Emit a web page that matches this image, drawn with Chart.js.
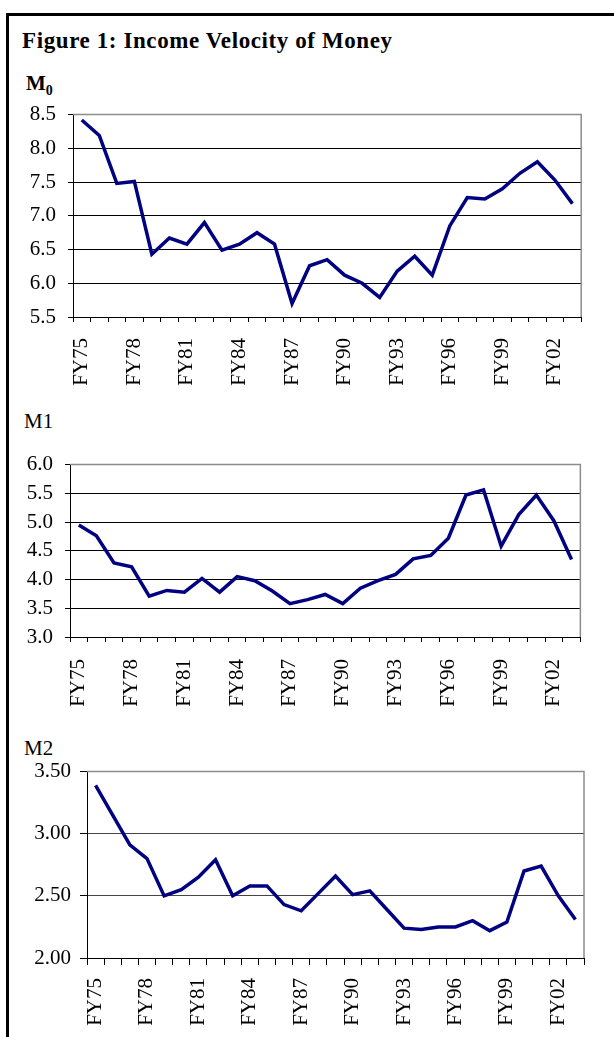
<!DOCTYPE html>
<html>
<head>
<meta charset="utf-8">
<script src="https://cdn.jsdelivr.net/npm/chart.js@4"></script>
<style>
    body { margin: 0; background: #fff; width: 614px; height: 1037px; overflow: hidden; position: relative; font-family: "Liberation Serif", serif; }
    .frame { position: absolute; left: 6px; top: 13px; width: 620px; height: 1040px; border-left: 3px solid #000; border-top: 3px solid #000; }
    .title { position: absolute; left: 22px; top: 28px; font-size: 23px; font-weight: bold; letter-spacing: 0.6px; }
    .lbl { position: absolute; font-size: 21px; }
    canvas { position: absolute; left: 0; }
</style>
</head>
<body>
<div class="frame"></div>
<div class="title">Figure 1: Income Velocity of Money</div>
<div class="lbl" style="left:26px; top:71px; font-weight:bold;">M<sub style="font-size:14px;">0</sub></div>
<div class="lbl" style="left:24px; top:409px;">M1</div>
<div class="lbl" style="left:24px; top:736px;">M2</div>
<div style="position:absolute; left:0; top:90px; width:614px; height:310px;"><canvas id="m0"></canvas></div>
<div style="position:absolute; left:0; top:440px; width:614px; height:290px;"><canvas id="m1"></canvas></div>
<div style="position:absolute; left:0; top:750px; width:614px; height:287px;"><canvas id="m2"></canvas></div>

<script>
const years = ['FY75', 'FY76', 'FY77', 'FY78', 'FY79', 'FY80', 'FY81', 'FY82', 'FY83', 'FY84',
    'FY85', 'FY86', 'FY87', 'FY88', 'FY89', 'FY90', 'FY91', 'FY92', 'FY93', 'FY94',
    'FY95', 'FY96', 'FY97', 'FY98', 'FY99', 'FY00', 'FY01', 'FY02', 'FY03'];

const m0Values = [8.42, 8.19, 7.48, 7.51, 6.43, 6.67, 6.58, 6.90, 6.49, 6.58,
    6.75, 6.58, 5.70, 6.26, 6.35, 6.12, 6.00, 5.79, 6.18, 6.40,
    6.12, 6.85, 7.27, 7.25, 7.40, 7.63, 7.80, 7.53, 7.18];

const m1Values = [4.95, 4.76, 4.29, 4.22, 3.71, 3.81, 3.78, 4.02, 3.78, 4.05,
    3.98, 3.80, 3.58, 3.65, 3.74, 3.58, 3.85, 3.98, 4.09, 4.36,
    4.42, 4.72, 5.47, 5.56, 4.58, 5.13, 5.47, 5.02, 4.35];

const m2Values = [3.39, 3.15, 2.91, 2.80, 2.50, 2.55, 2.65, 2.79, 2.50, 2.58,
    2.58, 2.43, 2.38, 2.52, 2.66, 2.51, 2.54, 2.39, 2.24, 2.23,
    2.25, 2.25, 2.30, 2.22, 2.29, 2.70, 2.74, 2.50, 2.31];

const m0Ticks = [5.5, 8.5];
const m1Ticks = [3.0, 6.0];
const m2Ticks = [2.0, 3.5];

const tickFont = { family: 'Liberation Serif', size: 21 };

// grey frame on top and right of the plot area
const plotBorder = {
    id: 'plotBorder',
    beforeDatasetsDraw(chart) {
        const a = chart.chartArea;
        const ctx = chart.ctx;
        ctx.save();
        ctx.strokeStyle = '#8c8c8c';
        ctx.lineWidth = 1.5;
        ctx.beginPath();
        ctx.moveTo(a.left, a.top);
        ctx.lineTo(a.right, a.top);
        ctx.lineTo(a.right, a.bottom);
        ctx.stroke();
        ctx.restore();
    }
};

function createVelocityChart(canvasId, values, range, decimals, box) {
    const canvas = document.getElementById(canvasId);

    if (!canvas) return;

    new Chart(canvas, {
        type: 'line',
        data: {
            labels: years,
            datasets: [{
                data: values,
                borderColor: '#000080',
                borderWidth: 3.5,
                pointRadius: 0,
                tension: 0,
                fill: false
            }]
        },
        options: {
            responsive: true,
            maintainAspectRatio: false,
            animation: false,
            layout: {
                padding: { top: box.top, right: box.right, left: 0, bottom: 0 }
            },
            plugins: {
                legend: { display: false },
                tooltip: { enabled: false }
            },
            scales: {
                x: {
                    offset: true,
                    grid: {
                        offset: true,
                        drawOnChartArea: false,
                        drawTicks: true,
                        tickLength: box.tick,
                        color: '#000'
                    },
                    border: { color: '#000', width: 1 },
                    ticks: {
                        autoSkip: false,
                        minRotation: 90,
                        maxRotation: 90,
                        padding: box.xPad,
                        color: '#000',
                        font: tickFont,
                        callback: (v, i) => i % 3 === 0 ? years[i] : ''
                    },
                    afterFit(scale) { scale.height = box.xHeight; }
                },
                y: {
                    min: range[0],
                    max: range[1],
                    grid: {
                        color: (c) => c.tick && c.tick.value === range[1] ? 'rgba(0,0,0,0)' : box.gridColor,
                        tickColor: '#000',
                        tickLength: box.tick,
                        lineWidth: 1
                    },
                    border: { color: '#000', width: 1 },
                    ticks: {
                        stepSize: 0.5,
                        padding: box.yPad,
                        color: '#000',
                        font: tickFont,
                        callback: (v) => Number(v).toFixed(decimals)
                    },
                    afterFit(scale) { scale.width = box.yWidth; }
                }
            }
        },
        plugins: [plotBorder]
    });
}

createVelocityChart('m0', m0Values, m0Ticks, 1,
    { top: 21, right: 21, yWidth: 73, xHeight: 83, tick: 5, xPad: 16, yPad: 12, gridColor: '#000' });
createVelocityChart('m1', m1Values, m1Ticks, 1,
    { top: 18, right: 14, yWidth: 70, xHeight: 93, tick: 5, xPad: 17, yPad: 12, gridColor: '#000' });
createVelocityChart('m2', m2Values, m2Ticks, 2,
    { top: 20, right: 21, yWidth: 87, xHeight: 79, tick: 7, xPad: 13, yPad: 9, gridColor: '#444' });
</script>
</body>
</html>
